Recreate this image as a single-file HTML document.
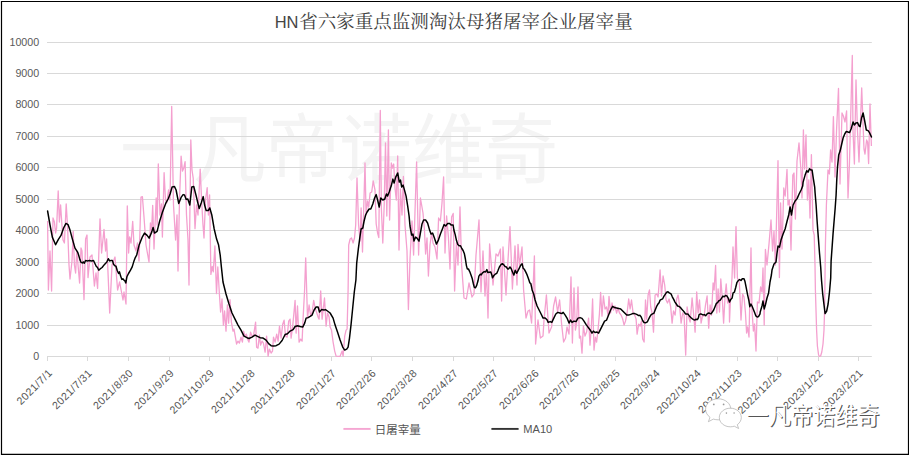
<!DOCTYPE html>
<html><head><meta charset="utf-8"><title>chart</title>
<style>html,body{margin:0;padding:0;background:#fff;}body{width:909px;height:455px;overflow:hidden;}svg{display:block;}text{font-family:"Liberation Sans",sans-serif;}</style></head><body>
<svg width="909" height="455" viewBox="0 0 909 455">
<rect x="0" y="0" width="909" height="455" fill="#fff"/>
<text id="wm" x="120" y="0" font-size="73" fill="#f4f4f4" textLength="438" lengthAdjust="spacingAndGlyphs" transform="translate(0,177.4) scale(1,1.04)" style="font-family:'Liberation Sans','Noto Sans CJK SC',sans-serif;">一凡帝诺维奇</text>
<line x1="47" x2="871.8" y1="325.50" y2="325.50" stroke="#d9d9d9" stroke-width="1"/>
<line x1="47" x2="871.8" y1="293.50" y2="293.50" stroke="#d9d9d9" stroke-width="1"/>
<line x1="47" x2="871.8" y1="262.50" y2="262.50" stroke="#d9d9d9" stroke-width="1"/>
<line x1="47" x2="871.8" y1="230.50" y2="230.50" stroke="#d9d9d9" stroke-width="1"/>
<line x1="47" x2="871.8" y1="199.50" y2="199.50" stroke="#d9d9d9" stroke-width="1"/>
<line x1="47" x2="871.8" y1="167.50" y2="167.50" stroke="#d9d9d9" stroke-width="1"/>
<line x1="47" x2="871.8" y1="136.50" y2="136.50" stroke="#d9d9d9" stroke-width="1"/>
<line x1="47" x2="871.8" y1="104.50" y2="104.50" stroke="#d9d9d9" stroke-width="1"/>
<line x1="47" x2="871.8" y1="73.50" y2="73.50" stroke="#d9d9d9" stroke-width="1"/>
<line x1="47" x2="871.8" y1="42.50" y2="42.50" stroke="#d9d9d9" stroke-width="1"/>
<line x1="47" x2="871.8" y1="356.5" y2="356.5" stroke="#d9d9d9" stroke-width="1"/>
<line x1="47.50" x2="47.50" y1="356" y2="361" stroke="#d9d9d9" stroke-width="1"/>
<line x1="87.50" x2="87.50" y1="356" y2="361" stroke="#d9d9d9" stroke-width="1"/>
<line x1="128.50" x2="128.50" y1="356" y2="361" stroke="#d9d9d9" stroke-width="1"/>
<line x1="169.50" x2="169.50" y1="356" y2="361" stroke="#d9d9d9" stroke-width="1"/>
<line x1="209.50" x2="209.50" y1="356" y2="361" stroke="#d9d9d9" stroke-width="1"/>
<line x1="250.50" x2="250.50" y1="356" y2="361" stroke="#d9d9d9" stroke-width="1"/>
<line x1="290.50" x2="290.50" y1="356" y2="361" stroke="#d9d9d9" stroke-width="1"/>
<line x1="331.50" x2="331.50" y1="356" y2="361" stroke="#d9d9d9" stroke-width="1"/>
<line x1="371.50" x2="371.50" y1="356" y2="361" stroke="#d9d9d9" stroke-width="1"/>
<line x1="412.50" x2="412.50" y1="356" y2="361" stroke="#d9d9d9" stroke-width="1"/>
<line x1="453.50" x2="453.50" y1="356" y2="361" stroke="#d9d9d9" stroke-width="1"/>
<line x1="493.50" x2="493.50" y1="356" y2="361" stroke="#d9d9d9" stroke-width="1"/>
<line x1="534.50" x2="534.50" y1="356" y2="361" stroke="#d9d9d9" stroke-width="1"/>
<line x1="574.50" x2="574.50" y1="356" y2="361" stroke="#d9d9d9" stroke-width="1"/>
<line x1="615.50" x2="615.50" y1="356" y2="361" stroke="#d9d9d9" stroke-width="1"/>
<line x1="655.50" x2="655.50" y1="356" y2="361" stroke="#d9d9d9" stroke-width="1"/>
<line x1="696.50" x2="696.50" y1="356" y2="361" stroke="#d9d9d9" stroke-width="1"/>
<line x1="737.50" x2="737.50" y1="356" y2="361" stroke="#d9d9d9" stroke-width="1"/>
<line x1="777.50" x2="777.50" y1="356" y2="361" stroke="#d9d9d9" stroke-width="1"/>
<line x1="818.50" x2="818.50" y1="356" y2="361" stroke="#d9d9d9" stroke-width="1"/>
<line x1="858.50" x2="858.50" y1="356" y2="361" stroke="#d9d9d9" stroke-width="1"/>
<text x="39.2" y="359.80" font-size="10.7" fill="#595959" text-anchor="end">0</text>
<text x="39.2" y="328.80" font-size="10.7" fill="#595959" text-anchor="end">1000</text>
<text x="39.2" y="296.80" font-size="10.7" fill="#595959" text-anchor="end">2000</text>
<text x="39.2" y="265.80" font-size="10.7" fill="#595959" text-anchor="end">3000</text>
<text x="39.2" y="233.80" font-size="10.7" fill="#595959" text-anchor="end">4000</text>
<text x="39.2" y="202.80" font-size="10.7" fill="#595959" text-anchor="end">5000</text>
<text x="39.2" y="170.80" font-size="10.7" fill="#595959" text-anchor="end">6000</text>
<text x="39.2" y="139.80" font-size="10.7" fill="#595959" text-anchor="end">7000</text>
<text x="39.2" y="107.80" font-size="10.7" fill="#595959" text-anchor="end">8000</text>
<text x="39.2" y="76.80" font-size="10.7" fill="#595959" text-anchor="end">9000</text>
<text x="39.2" y="45.80" font-size="10.7" fill="#595959" text-anchor="end">10000</text>
<text transform="translate(52.90,373.60) rotate(-45)" font-size="10.7" letter-spacing="0.45" fill="#555" text-anchor="end">2021/7/1</text>
<text transform="translate(92.90,373.60) rotate(-45)" font-size="10.7" letter-spacing="0.45" fill="#555" text-anchor="end">2021/7/31</text>
<text transform="translate(133.90,373.60) rotate(-45)" font-size="10.7" letter-spacing="0.45" fill="#555" text-anchor="end">2021/8/30</text>
<text transform="translate(174.90,373.60) rotate(-45)" font-size="10.7" letter-spacing="0.45" fill="#555" text-anchor="end">2021/9/29</text>
<text transform="translate(214.90,373.60) rotate(-45)" font-size="10.7" letter-spacing="0.45" fill="#555" text-anchor="end">2021/10/29</text>
<text transform="translate(255.90,373.60) rotate(-45)" font-size="10.7" letter-spacing="0.45" fill="#555" text-anchor="end">2021/11/28</text>
<text transform="translate(295.90,373.60) rotate(-45)" font-size="10.7" letter-spacing="0.45" fill="#555" text-anchor="end">2021/12/28</text>
<text transform="translate(336.90,373.60) rotate(-45)" font-size="10.7" letter-spacing="0.45" fill="#555" text-anchor="end">2022/1/27</text>
<text transform="translate(376.90,373.60) rotate(-45)" font-size="10.7" letter-spacing="0.45" fill="#555" text-anchor="end">2022/2/26</text>
<text transform="translate(417.90,373.60) rotate(-45)" font-size="10.7" letter-spacing="0.45" fill="#555" text-anchor="end">2022/3/28</text>
<text transform="translate(458.90,373.60) rotate(-45)" font-size="10.7" letter-spacing="0.45" fill="#555" text-anchor="end">2022/4/27</text>
<text transform="translate(498.90,373.60) rotate(-45)" font-size="10.7" letter-spacing="0.45" fill="#555" text-anchor="end">2022/5/27</text>
<text transform="translate(539.90,373.60) rotate(-45)" font-size="10.7" letter-spacing="0.45" fill="#555" text-anchor="end">2022/6/26</text>
<text transform="translate(579.90,373.60) rotate(-45)" font-size="10.7" letter-spacing="0.45" fill="#555" text-anchor="end">2022/7/26</text>
<text transform="translate(620.90,373.60) rotate(-45)" font-size="10.7" letter-spacing="0.45" fill="#555" text-anchor="end">2022/8/25</text>
<text transform="translate(660.90,373.60) rotate(-45)" font-size="10.7" letter-spacing="0.45" fill="#555" text-anchor="end">2022/9/24</text>
<text transform="translate(701.90,373.60) rotate(-45)" font-size="10.7" letter-spacing="0.45" fill="#555" text-anchor="end">2022/10/24</text>
<text transform="translate(742.90,373.60) rotate(-45)" font-size="10.7" letter-spacing="0.45" fill="#555" text-anchor="end">2022/11/23</text>
<text transform="translate(782.90,373.60) rotate(-45)" font-size="10.7" letter-spacing="0.45" fill="#555" text-anchor="end">2022/12/23</text>
<text transform="translate(823.90,373.60) rotate(-45)" font-size="10.7" letter-spacing="0.45" fill="#555" text-anchor="end">2023/1/22</text>
<text transform="translate(863.90,373.60) rotate(-45)" font-size="10.7" letter-spacing="0.45" fill="#555" text-anchor="end">2023/2/21</text>
<polyline id="pink" fill="none" stroke="#f4a0cf" stroke-width="1.3" stroke-linejoin="round" points="47.6,221.0 48.4,290.0 50.0,251.0 51.6,291.0 53.0,218.0 54.4,222.0 55.6,233.0 56.6,228.0 58.2,191.0 59.4,222.0 60.6,205.0 61.8,223.0 63.0,240.0 64.4,243.0 66.2,204.0 67.6,227.0 69.0,265.0 70.0,279.0 72.0,261.0 73.2,231.4 74.4,265.0 75.6,273.0 76.8,251.0 79.6,283.0 81.0,248.0 82.0,251.0 84.0,299.6 85.6,239.0 87.0,235.0 88.0,277.6 90.0,257.0 92.0,255.0 94.4,286.0 96.0,273.0 97.6,288.4 100.0,219.0 101.6,253.0 104.0,229.4 105.6,251.0 106.6,239.0 109.7,313.0 112.0,265.0 115.0,257.0 117.6,290.0 119.6,282.0 123.0,300.0 124.0,292.0 126.0,304.0 127.3,206.0 128.6,253.0 129.6,237.0 131.0,243.0 132.7,221.4 134.0,245.0 136.0,251.0 137.4,243.0 139.0,261.0 141.0,197.0 142.4,196.6 144.0,217.0 146.0,245.0 149.0,262.0 150.4,223.0 151.6,231.0 152.7,205.4 154.0,249.0 156.2,198.0 157.2,225.0 158.3,164.0 160.0,215.0 161.5,204.0 162.4,237.0 164.1,172.7 165.5,200.0 166.8,203.0 168.5,190.0 170.0,200.0 171.7,106.4 173.5,205.0 175.6,240.0 177.0,215.0 178.0,271.0 179.5,200.0 181.1,156.1 182.5,171.1 183.8,168.0 185.1,161.7 186.5,215.0 188.0,240.0 189.0,285.0 190.8,140.0 192.0,170.0 193.2,178.1 195.0,228.7 196.5,205.0 198.0,215.0 200.2,169.1 201.6,200.0 203.0,225.0 204.0,238.0 205.5,200.0 207.2,187.7 208.4,215.0 209.6,195.0 210.9,274.4 212.2,266.5 213.3,271.8 214.9,246.0 216.5,293.6 217.8,266.8 219.4,294.0 220.6,312.0 222.0,299.0 223.4,325.1 224.6,311.0 226.0,331.1 227.4,305.0 228.6,323.1 230.0,299.6 231.4,322.1 233.0,331.1 234.0,329.1 236.6,344.1 238.0,341.1 239.4,343.1 241.0,337.1 242.4,342.1 243.6,331.1 245.0,336.1 246.4,334.1 248.0,340.1 249.0,342.1 250.6,332.1 252.0,336.1 253.6,335.1 255.6,322.1 256.6,347.1 258.0,348.1 259.4,335.1 260.6,345.1 262.1,341.1 263.4,343.1 265.1,352.1 266.6,336.1 268.1,356.1 269.4,349.1 271.1,353.1 272.5,351.1 273.5,337.1 275.1,342.1 276.7,334.1 278.1,341.1 279.5,326.1 281.1,338.1 282.7,324.1 284.1,320.1 285.5,336.1 287.1,337.1 288.7,321.1 290.1,319.1 291.1,338.1 292.7,326.1 295.1,300.4 296.1,333.1 297.5,306.0 299.1,342.1 300.7,339.1 302.1,341.1 303.1,318.1 304.5,292.0 305.7,258.0 307.5,318.1 309.1,305.0 310.7,316.1 312.1,312.0 313.7,300.4 315.1,308.0 316.5,312.0 318.1,317.1 319.1,319.1 320.7,291.0 322.1,319.1 324.5,298.0 326.1,326.1 327.5,313.0 329.1,317.1 330.1,327.1 331.5,330.1 333.1,342.1 334.7,351.1 336.1,356.1 340.1,356.3 342.1,351.1 343.1,356.1 344.7,336.1 346.1,330.1 347.1,329.1 348.1,290.0 348.7,245.0 350.1,239.0 351.5,238.0 353.1,243.0 354.5,238.0 355.7,225.0 357.0,178.0 358.6,225.0 360.1,241.0 361.1,208.0 362.5,252.0 365.0,163.0 366.1,215.0 367.5,201.0 368.7,207.0 370.1,193.0 371.7,192.0 373.2,181.0 375.0,190.0 376.2,224.0 377.6,233.0 378.8,237.5 380.3,110.5 381.4,209.0 382.8,243.0 384.2,205.0 385.5,143.0 386.8,216.0 388.4,130.0 389.6,220.0 391.3,163.0 392.5,168.0 393.7,164.0 395.0,188.0 396.3,200.0 397.7,156.0 399.0,250.0 400.4,189.0 402.0,215.0 403.4,176.5 405.0,225.0 407.0,251.0 408.4,309.6 410.0,259.0 412.0,221.0 413.6,255.0 416.6,162.0 418.6,255.0 420.4,198.0 423.0,213.0 424.4,229.0 425.6,254.0 427.0,238.0 428.4,276.0 430.0,245.0 431.6,233.0 433.0,243.0 435.0,247.0 437.0,259.0 438.6,218.0 440.4,221.0 442.0,203.0 443.6,177.0 445.0,253.0 446.6,216.0 448.4,237.0 450.0,269.0 451.6,217.0 453.2,213.4 454.6,291.0 456.4,243.0 458.0,265.0 460.0,207.0 461.6,265.0 464.0,298.0 466.4,299.0 469.0,283.0 472.0,297.0 474.0,294.0 476.0,255.0 479.0,220.0 481.0,292.0 483.0,251.0 485.0,296.0 486.5,270.0 488.0,318.0 489.6,244.0 493.0,285.0 496.0,254.0 498.0,256.0 500.4,249.0 501.6,301.0 503.0,247.0 506.0,295.0 508.0,260.0 510.0,226.6 512.4,289.0 515.0,246.0 517.0,285.0 518.0,244.4 519.6,265.0 522.0,247.0 523.6,290.0 526.0,318.0 528.0,311.0 529.6,310.0 531.6,323.0 534.4,256.0 535.6,344.0 538.0,320.0 540.4,338.0 543.0,336.0 544.0,320.0 546.4,295.0 549.0,333.0 551.6,327.0 553.6,306.0 555.6,297.0 557.6,312.0 559.6,300.0 561.6,324.0 563.6,342.0 565.6,338.0 567.0,327.0 569.0,334.0 571.0,277.0 572.4,343.1 574.0,288.0 575.4,330.1 576.6,324.1 578.0,287.0 579.4,338.1 580.6,336.1 582.0,353.1 583.4,326.1 585.0,336.1 586.6,332.1 588.6,318.1 590.0,345.1 591.4,326.1 592.6,299.0 594.0,350.1 595.4,337.1 596.6,342.1 598.0,330.1 599.4,314.0 600.6,292.4 602.0,316.1 603.4,296.0 605.0,309.0 606.6,307.0 608.0,315.1 609.0,296.4 610.6,313.0 612.0,303.0 613.5,310.0 615.0,306.0 616.6,313.0 618.0,308.0 619.5,313.0 621.1,315.1 622.7,319.1 624.1,325.1 625.5,321.1 627.1,313.0 628.7,299.0 630.1,309.0 631.5,300.0 633.1,313.0 634.7,315.1 636.1,319.1 637.1,334.1 638.7,324.1 640.1,326.1 641.5,321.1 642.7,339.1 644.1,342.1 645.5,300.0 646.7,319.1 648.1,295.0 649.5,290.0 650.7,307.0 652.1,313.0 653.5,332.1 655.1,295.0 656.7,294.0 658.1,297.0 660.1,270.0 661.5,296.0 663.1,276.0 664.7,285.0 666.1,300.0 667.5,303.0 669.1,299.0 670.7,307.0 672.1,323.1 673.5,311.0 675.1,315.1 676.7,299.0 678.1,295.0 679.5,305.0 681.1,323.1 682.7,313.0 684.1,315.1 685.7,355.1 687.1,307.0 688.7,317.1 690.1,322.1 692.1,298.0 693.5,313.0 695.1,332.1 696.7,292.0 698.1,313.0 699.5,300.0 701.1,323.1 702.7,315.1 704.1,316.1 705.5,305.0 707.1,296.0 708.7,328.1 710.1,305.0 711.5,315.1 713.1,283.0 714.1,290.0 715.6,265.5 716.8,313.0 718.1,289.0 719.5,312.0 720.8,279.0 722.2,297.0 723.6,323.1 725.2,294.0 726.2,284.0 727.6,303.0 729.2,299.0 729.5,322.0 730.6,296.0 732.0,278.0 733.0,247.0 734.6,278.0 736.0,226.6 737.4,278.0 739.4,283.0 741.0,320.0 742.6,294.0 744.0,297.0 745.4,312.0 746.6,333.0 747.6,327.0 749.0,337.0 751.0,248.0 752.0,310.0 753.4,331.0 754.6,324.0 756.0,351.0 757.4,302.0 759.0,303.0 760.6,287.0 762.0,292.0 763.0,268.0 764.2,325.0 765.4,249.4 767.0,265.0 769.0,244.0 771.0,220.0 772.6,251.0 774.0,231.0 775.4,265.0 778.0,160.7 779.4,277.6 780.6,203.0 782.0,249.0 783.8,188.0 785.2,196.0 787.0,169.5 788.0,205.0 789.4,200.0 791.0,250.0 792.8,175.0 794.0,173.0 795.4,219.0 797.0,161.0 799.0,143.0 801.0,171.0 802.0,198.0 803.4,130.0 804.6,169.0 806.0,135.0 807.4,200.0 808.8,180.0 810.0,218.0 811.4,154.6 813.0,230.0 814.2,235.0 815.0,265.0 815.4,290.0 816.0,310.0 816.6,330.0 817.4,346.0 818.6,355.0 819.4,356.4 820.6,356.0 821.8,352.0 823.0,344.0 824.0,330.0 824.6,310.0 825.4,245.0 826.4,205.0 828.0,170.0 829.4,174.0 830.6,150.0 832.0,162.0 833.4,116.6 835.0,177.0 836.6,129.0 838.5,88.4 840.0,184.0 842.0,113.0 843.4,116.0 845.0,122.0 846.6,111.0 848.0,198.0 849.4,165.0 852.3,55.4 853.0,131.0 854.4,164.0 856.0,80.0 857.4,129.0 859.0,162.0 861.7,88.0 864.0,149.0 865.0,154.0 866.6,140.0 867.6,142.0 868.6,163.5 870.0,104.0 870.8,129.0 871.4,146.0"/>
<polyline id="black" fill="none" stroke="#000" stroke-width="1.48" stroke-linejoin="round" stroke-linecap="round" points="47.6,211.0 50.0,225.0 52.4,237.4 55.6,244.7 58.4,239.4 61.0,235.4 63.6,228.0 66.0,223.4 68.0,224.6 70.0,230.1 72.4,239.1 75.0,248.1 77.6,252.1 78.6,255.0 79.9,259.6 81.0,262.3 82.3,262.9 83.3,261.9 84.3,263.2 85.6,260.5 87.6,260.9 89.5,260.5 91.5,260.9 93.5,260.5 94.8,263.2 96.2,266.2 97.5,267.5 98.8,270.2 100.1,268.9 102.1,267.5 104.1,264.9 105.4,263.6 106.7,262.3 108.3,258.7 109.6,260.9 111.1,260.5 112.4,260.5 113.6,264.2 114.6,265.6 116.0,266.2 117.3,270.8 118.6,273.5 119.5,271.9 120.6,276.1 121.9,279.4 122.9,278.8 123.9,280.1 124.8,280.7 125.8,283.0 126.9,276.8 128.5,273.5 130.5,270.2 132.2,266.9 133.8,261.6 135.3,257.6 136.7,255.0 139.1,245.1 142.1,237.4 144.5,233.1 147.1,235.4 149.1,238.1 151.7,232.1 153.1,227.4 154.5,233.1 157.1,231.4 159.7,221.0 162.5,212.0 165.7,203.4 168.1,199.0 170.1,194.0 172.1,187.0 174.5,186.6 176.1,190.0 178.7,203.4 181.1,197.4 183.1,194.6 184.5,195.0 186.2,199.4 187.8,199.0 189.8,205.0 191.8,187.0 193.8,186.6 196.2,196.0 199.2,208.6 201.2,203.0 203.2,196.6 204.6,205.0 206.2,210.6 208.2,210.6 209.8,208.0 211.8,215.0 214.2,229.0 216.6,239.1 218.6,245.1 220.2,255.1 221.4,267.1 223.0,282.0 226.0,294.0 229.0,304.0 232.0,313.0 235.0,319.1 238.0,325.1 241.0,330.1 244.0,336.1 247.0,337.7 249.0,338.5 252.0,337.1 255.0,335.1 257.0,336.1 260.1,337.7 263.1,338.1 266.1,340.1 268.6,343.7 271.1,345.7 273.5,346.1 276.1,345.7 279.1,344.1 282.1,340.5 285.1,334.5 287.5,333.7 290.1,331.1 293.1,329.7 295.1,326.5 297.5,325.7 300.1,326.5 302.7,327.1 304.7,323.1 306.1,318.1 308.1,317.6 310.1,316.4 312.1,315.1 314.1,310.0 316.1,307.0 318.1,307.0 319.5,312.0 321.5,309.6 324.1,310.0 325.5,309.6 327.5,311.0 330.1,313.0 333.1,318.1 335.1,325.1 337.5,332.1 340.1,340.1 342.7,347.1 344.7,350.1 346.7,349.1 348.1,347.1 349.5,338.1 351.1,324.1 352.7,308.0 354.3,292.0 355.9,280.0 356.7,263.1 358.3,249.1 359.9,237.1 361.1,229.0 362.8,228.0 364.1,221.0 365.6,215.0 367.1,212.0 369.1,209.0 370.8,209.0 372.8,204.0 374.6,198.0 376.2,194.6 377.6,200.0 379.2,207.0 380.8,198.0 382.8,200.0 384.8,199.0 386.4,194.0 387.6,196.0 389.2,192.0 390.8,187.0 391.2,186.1 392.9,179.1 394.1,183.1 395.7,177.1 397.7,173.0 399.3,182.1 400.5,180.1 401.7,187.1 403.1,185.1 404.5,190.1 406.1,196.1 407.7,206.1 409.1,216.1 410.0,226.0 411.6,235.1 413.0,234.1 414.0,241.1 415.6,237.1 417.0,238.1 419.0,241.1 420.4,233.1 422.0,224.0 423.6,220.0 425.6,220.0 427.6,223.0 429.6,230.1 431.0,234.1 432.6,233.1 434.4,238.1 436.4,244.1 438.4,240.1 440.4,234.1 442.4,229.0 444.1,224.6 445.7,226.0 447.7,223.4 449.7,223.4 451.1,225.0 453.1,225.0 453.9,230.0 455.2,234.6 456.5,240.6 457.8,244.5 459.1,245.8 460.5,245.8 461.8,248.5 463.1,250.5 464.4,253.8 465.4,259.0 466.4,265.6 467.3,268.9 468.4,268.9 469.7,271.6 471.0,274.9 472.3,278.8 473.3,283.5 474.3,287.4 475.4,287.8 476.7,285.4 478.0,280.8 478.9,276.2 480.3,274.2 481.2,274.9 482.5,272.9 484.2,271.6 485.5,272.0 486.9,269.6 487.8,272.5 489.1,272.2 490.8,272.0 491.8,274.9 492.5,277.8 493.9,275.5 495.2,274.2 496.8,273.3 498.1,270.3 499.4,267.0 501.0,264.6 502.3,263.7 503.6,264.6 504.9,266.3 506.3,267.0 507.6,268.9 508.6,268.9 510.0,267.0 511.3,268.9 512.6,272.2 513.9,275.1 515.2,270.3 516.6,273.3 517.9,270.9 519.2,268.3 520.5,265.6 522.1,263.7 523.2,268.3 524.5,269.6 525.8,272.2 527.1,274.9 528.5,278.8 529.8,282.8 530.8,283.5 531.8,288.1 532.1,290.0 533.7,294.0 535.1,300.0 537.1,306.0 539.1,310.0 541.1,314.0 543.1,318.1 545.2,318.1 547.2,320.1 548.2,322.4 550.2,321.6 551.8,322.4 553.8,318.1 555.8,314.0 557.8,312.4 559.8,313.0 561.8,313.6 563.2,312.4 565.2,315.1 567.0,318.1 569.0,323.1 570.6,320.1 572.0,322.4 574.0,321.1 576.0,321.6 578.0,318.1 580.0,317.6 582.0,318.4 584.0,321.1 586.0,324.4 588.0,327.1 590.0,329.7 592.0,333.1 593.4,331.1 595.0,332.5 597.0,332.1 598.6,333.1 600.6,329.1 602.6,325.1 604.6,321.1 606.6,320.1 608.6,315.1 610.6,310.0 612.6,306.4 614.6,307.6 616.6,308.0 618.6,308.4 620.7,309.0 622.7,311.0 624.7,313.0 626.7,315.1 628.7,315.1 630.7,314.4 632.7,313.6 634.7,313.6 636.7,314.4 638.7,315.6 640.0,315.3 641.3,317.2 642.6,320.5 644.0,322.5 645.5,322.8 647.3,321.9 648.6,319.2 649.9,316.6 651.2,314.6 652.5,313.9 653.9,313.3 655.2,310.0 656.5,306.7 657.8,304.3 659.1,302.7 660.1,300.1 661.4,299.4 662.7,298.8 664.0,296.1 665.4,294.1 666.7,292.2 668.0,291.8 669.3,292.8 671.0,293.8 672.3,296.8 673.7,299.4 675.0,302.1 676.3,304.0 677.6,306.0 678.9,306.4 680.3,307.3 681.6,309.1 682.9,310.4 684.2,312.0 685.5,313.9 686.9,313.9 688.2,314.3 689.5,316.2 690.8,317.5 692.1,318.6 693.5,319.6 694.8,320.1 696.1,319.2 697.4,319.6 698.4,317.9 699.1,314.6 700.5,313.9 701.8,314.3 703.1,314.9 704.4,314.6 705.7,315.7 707.1,313.9 708.4,313.0 709.7,313.3 711.0,313.9 712.3,312.0 713.7,310.0 715.0,306.7 716.3,303.4 717.6,302.7 718.9,300.7 720.3,300.1 721.6,298.1 722.9,296.1 724.2,296.8 725.5,295.5 726.9,295.9 728.2,298.1 729.5,302.1 730.8,299.4 732.1,298.1 733.1,292.8 734.4,292.2 735.7,287.5 737.0,282.3 738.4,280.3 739.7,279.6 741.0,280.5 742.3,278.7 744.0,278.7 745.0,281.6 746.3,288.2 747.6,294.8 748.9,300.7 749.8,306.7 750.9,304.0 752.0,306.0 753.3,309.3 754.6,312.6 755.9,315.9 757.2,317.0 758.5,316.6 760.0,313.9 760.2,312.0 762.0,306.0 763.0,301.0 764.2,309.0 765.4,305.0 767.0,298.0 768.6,293.0 770.0,282.0 771.4,275.0 772.0,270.1 774.0,264.1 776.0,262.1 777.0,253.1 778.0,246.1 779.5,247.1 781.0,240.1 783.1,234.1 785.1,229.0 787.1,221.0 788.7,215.0 790.1,207.0 791.5,215.0 793.1,205.0 795.1,201.0 797.1,198.6 799.1,194.0 801.1,190.0 802.7,186.0 803.1,182.1 805.1,175.1 806.7,170.7 808.1,172.1 809.5,168.7 811.1,170.1 812.1,170.1 813.1,177.1 814.7,187.1 815.1,193.0 816.1,205.0 817.1,221.0 818.3,237.1 819.5,253.1 820.7,267.1 821.5,280.0 822.7,294.0 823.9,304.0 825.1,313.6 826.7,311.0 828.1,304.0 829.5,292.0 830.7,278.0 831.1,261.1 832.1,247.1 833.1,233.1 834.1,221.0 835.1,209.0 836.1,195.0 836.7,181.1 837.5,167.1 838.7,155.1 840.1,151.1 841.5,145.0 843.1,138.0 844.7,134.0 846.3,131.4 847.9,132.0 849.5,132.6 851.1,129.0 853.1,122.0 854.3,125.0 855.9,123.0 857.5,122.6 859.1,126.0 860.1,126.6 861.5,118.0 863.1,113.0 864.7,121.0 866.3,130.0 868.1,130.6 869.5,132.6 871.5,137.0"/>
<text x="274.7" y="27.8" font-size="16.2" fill="#454545" textLength="23.8" lengthAdjust="spacingAndGlyphs">HN</text>
<text id="title" x="299.2" y="28.4" font-size="18.5" fill="#404040" textLength="333.5" lengthAdjust="spacingAndGlyphs" style="font-family:'Liberation Serif','Noto Serif CJK SC',serif;">省六家重点监测淘汰母猪屠宰企业屠宰量</text>
<line x1="343.4" x2="370.6" y1="428.9" y2="428.9" stroke="#f5a6d2" stroke-width="1.9"/>
<text id="leg" x="374.8" y="433.8" font-size="11.5" fill="#555" textLength="46" lengthAdjust="spacingAndGlyphs" style="font-family:'Liberation Sans','Noto Sans CJK SC',sans-serif;">日屠宰量</text>
<line x1="491.4" x2="518.6" y1="428.9" y2="428.9" stroke="#333" stroke-width="1.9"/>
<text x="523.3" y="433.1" font-size="11.1" fill="#555">MA10</text>
<g stroke="#a0a0a0" stroke-width="0.6" fill="#fff"><path d="M718.2 398.8c-7 0-12.6 4.7-12.6 10.5 0 3.2 1.7 6 4.4 8l-1.6 4.4 5-2.6c1.5 0.5 3.1 0.7 4.8 0.7 7 0 12.6-4.7 12.6-10.5s-5.600-10.500-12.600-10.500z"/><path d="M730.3 408.2c-6.100 0-11 4.200-11 9.300s4.900 9.300 11 9.300c1.400 0 2.800-0.200 4-0.600l4.300 2.300-1.300-3.800c2.400-1.700 4-4.300 4-7.200 0-5.100-4.900-9.300-11-9.300z"/></g>
<g fill="#9a9a9a"><circle cx="713.8" cy="404.4" r="0.9"/><circle cx="723.6" cy="404.4" r="0.9"/><circle cx="726.4" cy="413.1" r="0.8"/><circle cx="734.1" cy="413" r="0.8"/></g>
<text x="746.5" y="0" font-size="22.2" fill="#555" textLength="133" lengthAdjust="spacingAndGlyphs" transform="translate(1.1,425.1) scale(1,1.07)" style="font-family:'Liberation Sans','Noto Sans CJK SC',sans-serif;">一凡帝诺维奇</text>
<text x="746.5" y="0" font-size="22.2" fill="#fff" textLength="133" lengthAdjust="spacingAndGlyphs" transform="translate(0,424) scale(1,1.07)" style="font-family:'Liberation Sans','Noto Sans CJK SC',sans-serif;">一凡帝诺维奇</text>
<path d="M0.9 0.9H909V455H0.9Z M2.1 2.1V453.8H907.9V2.1Z" fill="#000" fill-rule="evenodd"/>
</svg></body></html>
